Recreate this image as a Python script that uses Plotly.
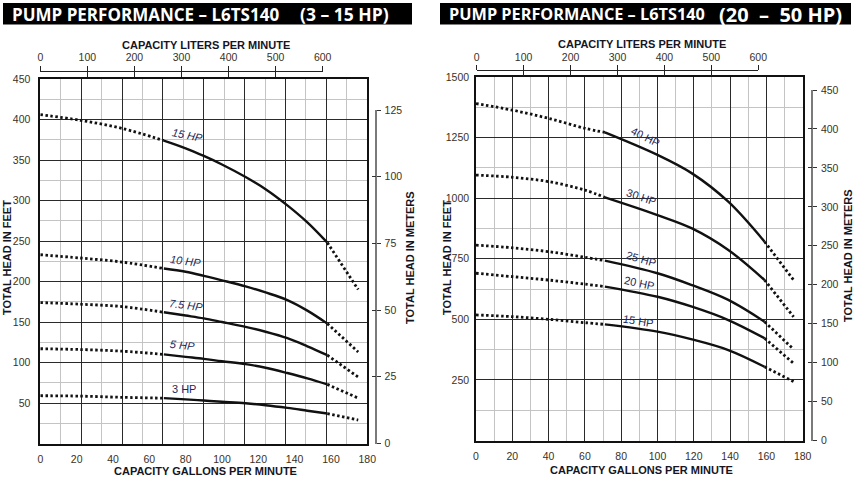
import plotly.graph_objects as go

W, H = 855, 483

# ---------------- data: left chart (3 - 15 HP) ----------------
L_gpm = [0, 22, 45, 68, 80, 90, 100, 113, 124, 136, 147, 158, 175]
L_15hp = [406, 399, 389, 374, 364.5, 355, 344.5, 329, 314, 294, 273, 248, 190]
L_10hp = [233, 229, 224, 216, 212, 207, 201.5, 194, 186.5, 177, 164, 148, 113]
L_7_5hp = [174, 172, 169, 162, 158, 154.5, 150, 144, 138, 130, 120, 109, 82]
L_5hp = [117, 116, 114, 110, 107, 104.5, 101.5, 98, 93.5, 87, 80.5, 73, 56]
L_3hp = [59, 58.5, 57, 56, 54.5, 53, 51.5, 49.6, 47.3, 44, 40.5, 37, 29]
L_names = ["15 HP", "10 HP", "7.5 HP", "5 HP", "3 HP"]
L_solid = (3, 11)  # index range of the rated (solid) part

# ---------------- data: right chart (20 - 50 HP) ----------------
R_gpm = [0, 20, 40, 60, 71, 100, 119, 139, 159, 175]
R_40hp = [1390, 1363, 1329, 1288, 1271, 1178, 1102, 985, 820, 662]
R_30hp = [1095, 1086, 1068, 1033, 1003, 930, 875, 786, 662, 510]
R_25hp = [806, 795, 779, 756, 742, 690, 641, 580, 490, 376]
R_20hp = [690, 676, 662, 645, 635, 593, 552, 497, 422, 318]
R_15hp = [518, 511, 500, 486, 479, 449, 417, 373, 304, 243]
R_names = ["40 HP", "30 HP", "25 HP", "20 HP", "15 HP"]
R_solid = (4, 8)

# tick labels
gpm_ticks = [0, 20, 40, 60, 80, 100, 120, 140, 160, 180]
lpm_ticks = [0, 100, 200, 300, 400, 500, 600]
L_ft_ticks = [50, 100, 150, 200, 250, 300, 350, 400, 450]
L_m_ticks = [0, 25, 50, 75, 100, 125]
R_ft_ticks = [250, 500, 750, 1000, 1250, 1500]
R_m_ticks = [0, 50, 100, 150, 200, 250, 300, 350, 400, 450]

TICKC = "#3a3125"
TITLEC = "#15151f"
LABELC = "#1d2858"
DARK = "#2a2a2a"
LIGHT = "#c4c4c4"
FONT = "Liberation Sans"


def px(x):
    return x / W


def py(y):
    return 1 - y / H


fig = go.Figure()

DOT = dict(color="#111", width=2.8, dash="2.5px,2.5px", shape="spline")
SOLID = dict(color="#111", width=2.4, shape="spline")


def add_curve(xs, ys, solid, xa, ya):
    a, b = solid
    for sl, ln in [(slice(0, a + 1), DOT), (slice(a, b + 1), SOLID), (slice(b, None), DOT)]:
        fig.add_trace(go.Scatter(x=xs[sl], y=ys[sl], xaxis=xa, yaxis=ya, mode="lines", line=ln,
                                 showlegend=False, hoverinfo="skip"))


for ys in [L_15hp, L_10hp, L_7_5hp, L_5hp, L_3hp]:
    add_curve(L_gpm, ys, L_solid, "x", "y")
for ys in [R_40hp, R_30hp, R_25hp, R_20hp, R_15hp]:
    add_curve(R_gpm, ys, R_solid, "x5", "y4")

# empty helper traces so that the auxiliary axes get drawn
for xa, ya in [("x3", "y"), ("x2", "y2"), ("x4", "y3"), ("x6", "y5"), ("x7", "y6")]:
    fig.add_trace(go.Scatter(x=[], y=[], xaxis=xa, yaxis=ya, showlegend=False, hoverinfo="skip"))

tf = dict(family=FONT, size=10.5, color=TICKC)

# panel geometry (pixels)
LX = [px(40.3), px(367.3)]
LY = [py(443.5), py(79)]
RX = [px(476), px(802.7)]
RY = [py(440.5), py(76.9)]

frame = dict(showline=True, mirror=True, linecolor="#111", linewidth=1.6, zeroline=False, automargin=False)


def top_axis(pos, x0, x1, ticks, labels):
    return dict(anchor="free", position=py(pos), side="top", domain=[px(x0), px(x1)], range=[0, 600],
                tickmode="array", tickvals=lpm_ticks, ticks=ticks, ticklen=5, tickwidth=1.3, tickcolor="#222",
                showline=labels, linecolor="#222", linewidth=1.3, showgrid=False, zeroline=False,
                showticklabels=labels, tickfont=tf, automargin=False)


def m_axis(pos, y0, y1, top, tv, ticks, labels):
    return dict(anchor="free", position=px(pos), side="right", domain=[py(y0), py(y1)], range=[0, top],
                tickmode="array", tickvals=tv, ticks=ticks, ticklen=4, tickwidth=1.3, tickcolor="#333",
                showline=labels, linecolor="#7a7a7a", linewidth=1.6, showgrid=False, zeroline=False,
                showticklabels=labels, tickfont=tf, ticklabelstandoff=2, automargin=False)


layout = dict(
    width=W, height=H, margin=dict(l=0, r=0, t=0, b=0, pad=0), autosize=False,
    paper_bgcolor="white", plot_bgcolor="rgba(0,0,0,0)", showlegend=False,
    # ---- left panel ----
    xaxis=dict(domain=LX, range=[0, 180], anchor="y", tickmode="array", tickvals=gpm_ticks,
               ticks="", showgrid=False, tickfont=tf, ticklabelstandoff=5, **frame),
    xaxis3=dict(overlaying="x", anchor="y", range=[0, 16], tickmode="linear", tick0=0, dtick=2,
                showgrid=True, gridcolor=DARK, gridwidth=1.2, showticklabels=False, ticks="",
                zeroline=False, showline=False, automargin=False,
                minor=dict(tickmode="linear", tick0=0, dtick=1, showgrid=True, gridcolor=LIGHT, gridwidth=1.2)),
    yaxis=dict(domain=LY, range=[0, 450], anchor="x", tickmode="array", tickvals=L_ft_ticks,
               ticks="", showgrid=True, gridcolor=DARK, gridwidth=1.2, tickfont=tf, ticklabelstandoff=6,
               minor=dict(tickmode="linear", tick0=0, dtick=25, showgrid=True, gridcolor=LIGHT, gridwidth=1.2),
               **frame),
    xaxis2=top_axis(70.7, 40.3, 322.7, "outside", True),
    xaxis4=top_axis(70.7, 40.3, 322.7, "inside", False),
    yaxis2=m_axis(375.7, 443.5, 110, 125, L_m_ticks, "outside", True),
    yaxis3=m_axis(375.7, 443.5, 110, 125, L_m_ticks, "inside", False),
    # ---- right panel ----
    xaxis5=dict(domain=RX, range=[0, 180], anchor="y4", tickmode="linear", tick0=0, dtick=20,
                ticks="", showgrid=True, gridcolor=DARK, gridwidth=1.2, tickfont=tf, ticklabelstandoff=5,
                minor=dict(tickmode="linear", tick0=0, dtick=10, showgrid=True, gridcolor=LIGHT, gridwidth=1.2),
                **frame),
    yaxis4=dict(domain=RY, range=[0, 1500], anchor="x5", tickmode="array", tickvals=R_ft_ticks,
                ticks="", showgrid=True, gridcolor=DARK, gridwidth=1.2, tickfont=tf, ticklabelstandoff=3,
                minor=dict(tickmode="linear", tick0=125, dtick=250, showgrid=True, gridcolor=LIGHT, gridwidth=1.2),
                **frame),
    xaxis6=top_axis(70, 476.7, 758.3, "outside", True),
    xaxis7=top_axis(70, 476.7, 758.3, "inside", False),
    yaxis5=m_axis(812, 440.5, 90, 450, R_m_ticks, "outside", True),
    yaxis6=m_axis(812, 440.5, 90, 450, R_m_ticks, "inside", False),
)
fig.update_layout(**layout)

shapes = []
annotations = []

NB = "\u00a0"
# title banners: (x0, x1, left text, x, size, right text, x, anchor, size)
banners = [
    (3, 412, "PUMP PERFORMANCE – L6TS140", 10, 17, "(3 – 15 HP)", 391, "right", 17.5),
    (440, 851, "PUMP PERFORMANCE – L6TS140", 447, 16.3, "(20" + NB + " – " + NB + "50 HP)", 717, "left", 20),
]
bfont = "Open Sans"
for x0, x1, t1, tx1, fs1, t2, tx2, anc2, fs2 in banners:
    shapes.append(dict(type="rect", xref="paper", yref="paper", x0=px(x0), x1=px(x1), y0=py(24.5), y1=py(3),
                       fillcolor="black", line=dict(width=0), layer="below"))
    annotations.append(dict(xref="paper", yref="paper", x=px(tx1), y=py(14), xanchor="left", yanchor="middle",
                            text="<b>" + t1 + "</b>", showarrow=False,
                            font=dict(family=bfont, size=fs1, color="white")))
    annotations.append(dict(xref="paper", yref="paper", x=px(tx2), y=py(14), xanchor=anc2, yanchor="middle",
                            text="<b>" + t2 + "</b>", showarrow=False,
                            font=dict(family=bfont, size=fs2, color="white")))

# axis titles
tfont = dict(family=FONT, size=11, color=TITLEC)
titles = [
    (205.5, 45, "CAPACITY LITERS PER MINUTE", 0),
    (205.5, 471, "CAPACITY GALLONS PER MINUTE", 0),
    (7, 258, "TOTAL HEAD IN FEET", -90),
    (410, 258, "TOTAL HEAD IN METERS", -90),
    (641.5, 44, "CAPACITY LITERS PER MINUTE", 0),
    (641.5, 470, "CAPACITY GALLONS PER MINUTE", 0),
    (447, 257, "TOTAL HEAD IN FEET", -90),
    (848, 256, "TOTAL HEAD IN METERS", -90),
]
for x, y, t, ang in titles:
    annotations.append(dict(xref="paper", yref="paper", x=px(x), y=py(y), xanchor="center", yanchor="middle",
                            text="<b>" + t + "</b>", textangle=ang, showarrow=False, font=tfont))

# curve labels
lfont = dict(family=FONT, size=11, color=LABELC)
L_lab_pos = [(81, 381, 11), (80, 225, 7), (80, 171, 7), (78, 122, 6), (79, 67, 0)]
for name, (x, y, a) in zip(L_names, L_lab_pos):
    t = name if a == 0 else "<i>" + name + "</i>"
    annotations.append(dict(xref="x", yref="y", x=x, y=y, text=t, textangle=a, showarrow=False, font=lfont))
R_lab_pos = [(93.5, 1251, 27), (91.3, 1004, 19), (91.3, 750, 16), (90, 648, 12), (89.4, 494, 9)]
for name, (x, y, a) in zip(R_names, R_lab_pos):
    annotations.append(dict(xref="x5", yref="y4", x=x, y=y, text=name, textangle=a, showarrow=False,
                            font=lfont))

fig.update_layout(shapes=shapes, annotations=annotations)
fig.write_html("out.html", post_script="document.body.style.margin='0';")
